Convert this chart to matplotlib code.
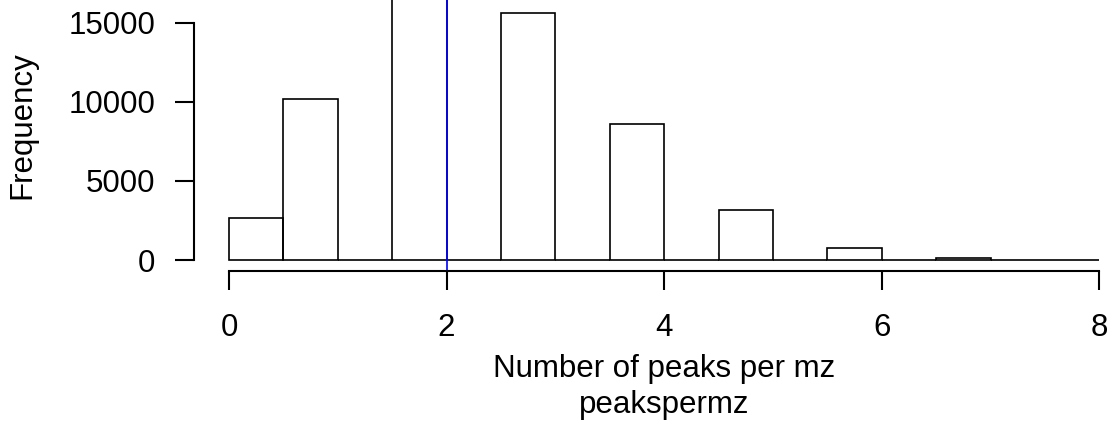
import numpy as np
import matplotlib.pyplot as plt

plt.rcParams['font.family'] = ['Liberation Sans', 'DejaVu Sans']

# counts of peaks per mz (integer values 0..8)
peaks = [0, 1, 2, 3, 4, 5, 6, 7, 8]
freq = [2680, 10210, 17400, 15650, 8610, 3140, 740, 100, 20]
bin_width = 0.5
x_ticks = [0, 2, 4, 6, 8]
y_ticks = [0, 5000, 10000, 15000]
mean_line = 2

# R-style hist with right-closed bins: value k falls in (k-0.5, k], 0 in [0, 0.5]
edges = np.arange(0, max(peaks) + bin_width, bin_width)
bin_counts = np.zeros(len(edges) - 1)
for p, f in zip(peaks, freq):
    idx = max(int(round(p / bin_width)) - 1, 0)
    bin_counts[idx] += f

W, H = 1110, 424
fs = 22.5

fig = plt.figure(figsize=(W / 100, H / 100), dpi=100)
ax = fig.add_axes([194.2 / W, 153 / H, 940 / W, 297 / H])

ax.bar(edges[:-1], bin_counts, width=bin_width, align='edge',
       fill=False, edgecolor='black', linewidth=1.2)
ax.axvline(mean_line, color='blue', linewidth=1.2)

ymax = max(freq)
ax.set_xlim(-0.04 * 8, 8 * 1.04)
ax.set_ylim(-0.04 * ymax, 1.04 * ymax)

for s in ['top', 'right']:
    ax.spines[s].set_visible(False)
ax.spines['left'].set_bounds(0, 15000)
ax.spines['bottom'].set_bounds(0, 8)
ax.spines['left'].set_linewidth(1.5)
ax.spines['bottom'].set_linewidth(1.5)

ax.set_xticks(x_ticks)
ax.set_yticks(y_ticks)
ax.tick_params(axis='x', direction='out', length=14, width=1.5, pad=16, labelsize=fs)
ax.tick_params(axis='y', direction='out', length=14, width=1.5, pad=14, labelsize=fs)

fig.text(22 / W, 1 - 125 / H, 'Frequency', rotation=90, ha='center', va='center', fontsize=fs)
fig.text(664 / W, 1 - 377 / H, 'Number of peaks per mz', ha='center', va='baseline', fontsize=fs)
fig.text(664 / W, 1 - 413 / H, 'peakspermz', ha='center', va='baseline', fontsize=fs)

fig.savefig('out.png', dpi=100)
